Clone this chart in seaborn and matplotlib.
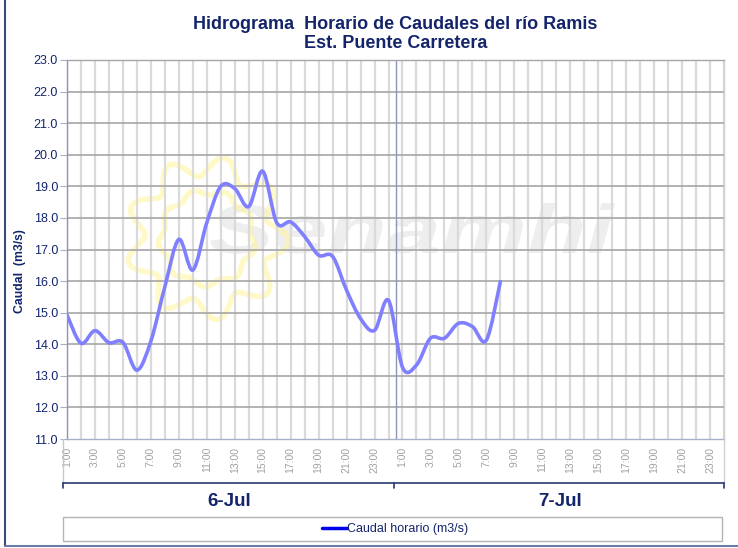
import numpy as np
import matplotlib
matplotlib.use("Agg")
import matplotlib.pyplot as plt
import seaborn as sns
from matplotlib.path import Path
from matplotlib.patches import PathPatch, Rectangle
from matplotlib.lines import Line2D
from matplotlib.textpath import TextPath
from matplotlib.font_manager import FontProperties
from matplotlib.transforms import Affine2D

# hourly discharge, 6-Jul 1:00 .. 7-Jul 8:00 (m3/s)
caudal = [14.93, 14.03, 14.43, 14.05, 14.06, 13.18, 14.10, 15.82,
          17.32, 16.35, 17.85, 19.00, 18.93, 18.36, 19.48, 17.85,
          17.87, 17.41, 16.82, 16.78, 15.71, 14.81, 14.44, 15.39,
          13.27, 13.34, 14.19, 14.19, 14.66, 14.56, 14.13, 15.98]
hours = list(range(len(caudal)))          # 0 = 6-Jul 1:00
n_slots = 48                              # two days of hourly categories
hour_labels = ["1:00", "3:00", "5:00", "7:00", "9:00", "11:00",
               "13:00", "15:00", "17:00", "19:00", "21:00", "23:00"]
days = ["6-Jul", "7-Jul"]
y_ticks = [11, 12, 13, 14, 15, 16, 17, 18, 19, 20, 21, 22, 23]

NAVY = "#14246b"
W, H = 738, 548

sns.set_theme(style="white")
plt.rcParams["font.family"] = ["Liberation Sans", "DejaVu Sans"]


def fx(x):
    return x / W


def fy(y):
    return 1 - y / H


def smooth_path(xs, ys):
    # excel-like smoothed line (catmull-rom bezier)
    verts = [(xs[0], ys[0])]
    codes = [Path.MOVETO]
    n = len(xs)
    for i in range(n - 1):
        a = max(i - 1, 0)
        b = min(i + 2, n - 1)
        c1 = (xs[i] + (xs[i + 1] - xs[a]) / 6, ys[i] + (ys[i + 1] - ys[a]) / 6)
        c2 = (xs[i + 1] - (xs[b] - xs[i]) / 6, ys[i + 1] - (ys[b] - ys[i]) / 6)
        verts += [c1, c2, (xs[i + 1], ys[i + 1])]
        codes += [Path.CURVE4] * 3
    return Path(verts, codes)


fig = plt.figure(figsize=(W / 100, H / 100), dpi=100)
fig.patch.set_facecolor("white")
ax = fig.add_axes([fx(67), fy(439), fx(724) - fx(67), fy(60) - fy(439)])
ax.set_facecolor("white")

# grid
for h in range(n_slots):
    ax.axvline(h, color="#dadada", lw=1.6, zorder=1)
for v in y_ticks[1:]:
    ax.axhline(v, color="#a6a6a6", lw=1.2, zorder=1.1)
ax.axvline(23.5, color="#8c96b4", lw=1.0, zorder=1.2)

# watermark: sun + Senamhi
th = np.linspace(0, 2 * np.pi, 600)
cx, cy = 207, H - 238
r_out = 72 + 10 * np.cos(9 * th + 0.4)
r_in = 46 + 3 * np.cos(9 * th + 2.0)
pix = Affine2D()
for rr in (r_out, r_in):
    ax.plot(cx + rr * np.cos(th), cy + rr * np.sin(th), transform=pix,
            color="#fff39a", lw=4, alpha=0.55, zorder=0.8)
fp = FontProperties(family="Liberation Sans", weight="bold", style="italic")
tp = TextPath((0, 0), "Senamhi", size=1, prop=fp)
ext = tp.get_extents()
tr = Affine2D().translate(-ext.x0, 0).scale(405 / ext.width, 50 / ext.y1)
tr = tr.translate(210, H - 253)
ax.add_patch(PathPatch(tp, transform=tr, fc="#eeeeee", ec="none", zorder=0.7))

# series
ax.add_patch(PathPatch(smooth_path(hours, caudal), fill=False, ec="#8080ff",
                       lw=2.6, capstyle="round", joinstyle="round", zorder=3))

ax.set_xlim(0, n_slots - 1)
ax.set_ylim(11, 23)
ax.set_yticks(y_ticks)
ax.set_yticklabels([f"{v:.1f}" for v in y_ticks], fontsize=9, color=NAVY)
ax.set_xticks(list(range(0, n_slots, 2)))
ax.set_xticklabels(hour_labels * 2, rotation=90, fontsize=7.5,
                   color="#a0a0a0", va="top")
ax.tick_params(axis="x", length=0, pad=5.5)
ax.tick_params(axis="y", length=5, width=0.8, color="#a8b0c8", pad=1.5,
               left=True)
ax.grid(False)
for side, col in [("left", "#8c96b4"), ("bottom", "#a8b0c8"),
                  ("top", "#a6a6a6"), ("right", "#d0d0d0")]:
    ax.spines[side].set_color(col)
    ax.spines[side].set_linewidth(1.0)
    ax.spines[side].set_zorder(4)

# titles
fig.text(fx(395), fy(29), "Hidrograma  Horario de Caudales del río Ramis",
         ha="center", va="baseline", fontsize=13, fontweight="bold", color=NAVY)
fig.text(fx(396), fy(48.3), "Est. Puente Carretera",
         ha="center", va="baseline", fontsize=13, fontweight="bold", color=NAVY)
fig.text(fx(20), fy(271), "Caudal  (m3/s)", rotation=90, ha="center",
         va="center", fontsize=8.8, fontweight="bold", color=NAVY)

# day axis below the hour labels
fig.add_artist(Line2D([fx(63), fx(63)], [fy(439), fy(483)], color="#c0c8d8", lw=1))
fig.add_artist(Line2D([fx(724), fx(724)], [fy(439), fy(483)], color="#d0d0d0", lw=1))
fig.add_artist(Line2D([fx(63), fx(724)], [fy(483), fy(483)], color="#2b3a6e", lw=1.2))
for x in (63, 394, 724):
    fig.add_artist(Line2D([fx(x), fx(x)], [fy(483), fy(488)], color="#2b3a6e", lw=1.2))
for d, x in zip(days, (229, 560)):
    fig.text(fx(x), fy(506), d, ha="center", va="baseline", fontsize=13.5,
             fontweight="bold", color=NAVY)

# legend
fig.add_artist(Rectangle((fx(63), fy(541)), fx(722) - fx(63), fy(517) - fy(541),
                         transform=fig.transFigure, fc="white", ec="#b4b4b4", lw=1))
handle = Line2D([], [], color="#0000ee", lw=2.5)
fig.legend([handle], ["Caudal horario (m3/s)"], loc="center",
           bbox_to_anchor=(fx(395), fy(529)), frameon=False, fontsize=9,
           handlelength=2.0, handletextpad=0.05, labelcolor=NAVY,
           borderpad=0, borderaxespad=0)

# outer frame
fig.add_artist(Line2D([fx(5), fx(5)], [fy(0), fy(546)], color="#3a4a7a", lw=1.5))
fig.add_artist(Line2D([fx(5), fx(738)], [fy(546), fy(546)], color="#6a7aa8", lw=1.5))

fig.savefig("out.png", dpi=100)
